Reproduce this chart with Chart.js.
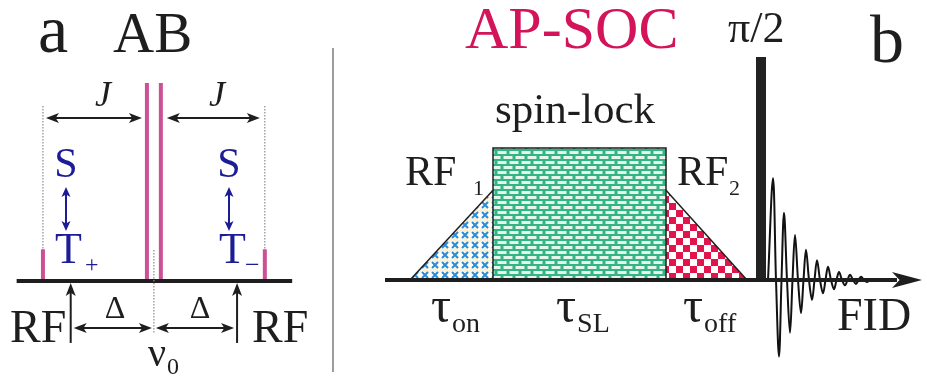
<!DOCTYPE html>
<html><head><meta charset="utf-8">
<script src="https://cdn.jsdelivr.net/npm/chart.js@4"></script>
<style>
html,body{margin:0;padding:0;background:#fff;width:927px;height:377px;overflow:hidden}
canvas{position:absolute;top:0}
#ca{left:0}
#cb{left:340px}
</style></head><body>
<canvas id="ca" width="340" height="377"></canvas>
<canvas id="cb" width="587" height="377"></canvas>
<script>
// ---- Panel a: AB spectrum (frequency offset from nu0, J = 10 units) ----
const abLinePositions = [-10.67, -0.67, 0.67, 10.67];
const abLineIntensities = [0.16, 1.0, 1.0, 0.16];
const couplingJ = 10;
const rfOffsetDelta = 8.0;
const spectrumAxisRange = [-13.2, 13.3];

// ---- Panel b: AP-SOC sequence (time in arbitrary units, RF amplitude) ----
const rampOnTimes = [0, 8.3];
const rampOnAmps = [0, 0.68];
const spinLockTimes = [8.3, 8.3, 25.6, 25.6];
const spinLockAmps = [0, 1, 1, 0];
const rampOffTimes = [25.6, 33.7];
const rampOffAmps = [0.68, 0];
const pulseTimes = [34.6, 34.6, 35.6, 35.6];
const pulseAmps = [0, 1.69, 1.69, 0];
const fidTimes = [35.8, 36.3, 36.6, 36.9, 37.15, 37.4, 37.7, 38.0, 38.25, 38.5, 38.8, 39.1, 39.35, 39.6,
  39.9, 40.2, 40.45, 40.7, 41.0, 41.3, 41.55, 41.8, 42.1, 42.4, 42.65, 42.9, 43.2, 43.5, 43.75, 44.0,
  44.3, 44.6, 44.85, 45.1, 45.4, 45.7, 46.0, 46.5];
const fidAmps = [0, 0.77, 0, -0.58, 0, 0.51, 0, -0.40, 0, 0.34, 0, -0.25, 0, 0.23,
  0, -0.15, 0, 0.15, 0, -0.10, 0, 0.10, 0, -0.07, 0, 0.06, 0, -0.04, 0, 0.04,
  0, -0.03, 0, 0.025, 0, -0.015, 0, 0];
const timeAxisRange = [-2.5, 51.2];

const SERIF = '"Liberation Serif", "DejaVu Serif", serif';
const INK = '#1e1e1e';
const PINK = '#cc5096';
const NAVY = '#1c1c96';

function pts(xs, ys) { return xs.map((x, i) => ({ x: x, y: ys[i] })); }

// fill patterns
function makePattern(w, h, paint) {
  const c = document.createElement('canvas');
  c.width = w; c.height = h;
  const g = c.getContext('2d');
  paint(g);
  return g.createPattern(c, 'repeat');
}
const crossPattern = makePattern(10, 10, g => {
  g.fillStyle = '#fff'; g.fillRect(0, 0, 10, 10);
  g.fillStyle = '#fbf1d6'; g.beginPath(); g.arc(0, 0, 2.2, 0, 7); g.arc(10, 0, 2.2, 0, 7); g.arc(0, 10, 2.2, 0, 7); g.arc(10, 10, 2.2, 0, 7); g.fill();
  g.strokeStyle = '#2a8bd6'; g.lineWidth = 2;
  g.beginPath(); g.moveTo(2, 2); g.lineTo(8, 8); g.moveTo(8, 2); g.lineTo(2, 8); g.stroke();
});
const brickPattern = makePattern(12, 10, g => {
  g.fillStyle = '#34b384'; g.fillRect(0, 0, 12, 10);
  g.fillStyle = '#e4f6ec';
  g.fillRect(1.5, 1, 9, 3);
  g.fillRect(7.5, 6, 9, 3);
  g.fillRect(-4.5, 6, 9, 3);
});
const checkPattern = makePattern(14, 14, g => {
  g.fillStyle = '#fff'; g.fillRect(0, 0, 14, 14);
  g.fillStyle = '#e2144c';
  g.fillRect(0, 0, 7, 7); g.fillRect(7, 7, 7, 7);
});

function txt(ctx, s, x, y, size, color, opts) {
  opts = opts || {};
  ctx.save();
  ctx.font = (opts.italic ? 'italic ' : '') + size + 'px ' + SERIF;
  ctx.fillStyle = color || INK;
  ctx.textAlign = opts.align || 'left';
  ctx.textBaseline = 'alphabetic';
  ctx.fillText(s, x, y);
  const w = ctx.measureText(s).width;
  ctx.restore();
  return w;
}
function head(ctx, x, y, ang, len, hw, color) {
  ctx.save();
  ctx.translate(x, y); ctx.rotate(ang);
  ctx.fillStyle = color;
  ctx.beginPath();
  ctx.moveTo(0, 0); ctx.lineTo(-len, -hw); ctx.lineTo(-len * 0.75, 0); ctx.lineTo(-len, hw);
  ctx.closePath(); ctx.fill();
  ctx.restore();
}
function arrow(ctx, x1, y1, x2, y2, color, lw, both, len, hw) {
  len = len || 12; hw = hw || 5;
  const a = Math.atan2(y2 - y1, x2 - x1);
  ctx.save();
  ctx.strokeStyle = color; ctx.lineWidth = lw;
  ctx.beginPath();
  ctx.moveTo(x1 + (both ? Math.cos(a) * len * 0.6 : 0), y1 + (both ? Math.sin(a) * len * 0.6 : 0));
  ctx.lineTo(x2 - Math.cos(a) * len * 0.6, y2 - Math.sin(a) * len * 0.6);
  ctx.stroke();
  ctx.restore();
  head(ctx, x2, y2, a, len, hw, color);
  if (both) head(ctx, x1, y1, a + Math.PI, len, hw, color);
}
function dotted(ctx, x, y1, y2) {
  ctx.save();
  ctx.strokeStyle = '#8c8c8c'; ctx.lineWidth = 1.2; ctx.setLineDash([1.5, 1.5]);
  ctx.beginPath(); ctx.moveTo(x, y1); ctx.lineTo(x, y2); ctx.stroke();
  ctx.restore();
}

const baseOpts = (xr, yr) => ({
  responsive: false, animation: false, events: [],
  layout: { padding: 0 },
  plugins: { legend: { display: false }, tooltip: { enabled: false } },
  elements: { point: { radius: 0 } },
  scales: {
    x: { type: 'linear', display: false, min: xr[0], max: xr[1] },
    y: { type: 'linear', display: false, min: yr[0], max: yr[1] }
  }
});

// ---------------- Panel a ----------------
const spectrumSets = abLinePositions.map((p, i) => ({
  data: pts([p, p], [0, abLineIntensities[i]]),
  borderColor: PINK, borderWidth: 4, borderCapStyle: 'butt', fill: false
}));
spectrumSets.unshift({
  data: pts(spectrumAxisRange, [0, 0]),
  borderColor: INK, borderWidth: 4, fill: false, order: -1
});

const panelA = {
  id: 'panelA',
  afterDatasetsDraw(chart) {
    const ctx = chart.ctx, X = v => chart.scales.x.getPixelForValue(v), Y = v => chart.scales.y.getPixelForValue(v);
    const outerL = X(abLinePositions[0]), innerL = X(abLinePositions[1]);
    const innerR = X(abLinePositions[2]), outerR = X(abLinePositions[3]);
    const x0 = X(0), yAx = Y(0);
    // guide lines
    dotted(ctx, outerL, Y(0.884), Y(abLineIntensities[0]));
    dotted(ctx, outerR, Y(0.884), Y(abLineIntensities[3]));
    dotted(ctx, x0, Y(0.157), Y(-0.263));
    // J arrows
    const yJ = Y(0.823);
    arrow(ctx, outerL + 3, yJ, innerL - 5, yJ, INK, 2, true, 13, 5);
    arrow(ctx, innerR + 6, yJ, outerR - 5, yJ, INK, 2, true, 13, 5);
    txt(ctx, 'J', 103, 106, 36, INK, { italic: true, align: 'center' });
    txt(ctx, 'J', 217, 106, 36, INK, { italic: true, align: 'center' });
    // RF irradiation positions
    const rfL = X(-rfOffsetDelta), rfR = X(rfOffsetDelta);
    arrow(ctx, rfL, Y(-0.313), rfL, yAx + 2, INK, 2, false, 13, 5);
    arrow(ctx, rfR, Y(-0.313), rfR, yAx + 2, INK, 2, false, 13, 5);
    const yD = Y(-0.237);
    arrow(ctx, rfL + 3, yD, x0 - 2, yD, INK, 2, true, 13, 5);
    arrow(ctx, x0 + 2, yD, rfR - 3, yD, INK, 2, true, 13, 5);
    txt(ctx, 'Δ', 115, 318, 32, INK, { align: 'center' });
    txt(ctx, 'Δ', 200, 318, 32, INK, { align: 'center' });
    txt(ctx, 'RF', 10, 342, 46);
    txt(ctx, 'RF', 252, 342, 46);
    txt(ctx, 'ν', 148, 366, 40);
    txt(ctx, '0', 167, 374, 24);
    // S <-> T labels
    txt(ctx, 'S', 66, 177, 42, NAVY, { align: 'center' });
    txt(ctx, 'S', 229, 177, 42, NAVY, { align: 'center' });
    arrow(ctx, 66, 187, 66, 231, NAVY, 2, true, 10, 4.5);
    arrow(ctx, 229, 187, 229, 231, NAVY, 2, true, 10, 4.5);
    txt(ctx, 'T', 55, 263, 44, NAVY);
    txt(ctx, '+', 85, 272, 24, NAVY);
    txt(ctx, 'T', 219, 263, 44, NAVY);
    txt(ctx, '−', 245, 273, 26, NAVY);
    // titles
    txt(ctx, 'a', 38, 52, 68);
    txt(ctx, 'AB', 113, 52, 57);
    // panel divider
    ctx.save(); ctx.strokeStyle = '#9c9c9c'; ctx.lineWidth = 2;
    ctx.beginPath(); ctx.moveTo(333, 48); ctx.lineTo(333, 372); ctx.stroke(); ctx.restore();
  }
};

new Chart(document.getElementById('ca'), {
  type: 'line',
  data: { datasets: spectrumSets },
  options: baseOpts([-14.8, 17.9], [-0.485, 1.419]),
  plugins: [panelA]
});

// ---------------- Panel b ----------------
const OFF = 340;
const panelB = {
  id: 'panelB',
  afterDatasetsDraw(chart) {
    const ctx = chart.ctx, X = v => chart.scales.x.getPixelForValue(v), Y = v => chart.scales.y.getPixelForValue(v);
    // time axis arrowhead
    head(ctx, X(timeAxisRange[1]), Y(0), 0, 30, 8, INK);
    const t = (s, x, y, size, color, o) => txt(ctx, s, x - OFF, y, size, color, o);
    t('AP-SOC', 465, 48, 60, '#d3145a');
    t('spin-lock', 495, 123, 43);
    t('π/2', 728, 42, 44);
    t('b', 870, 62, 68);
    t('RF', 405, 185, 42); t('1', 473, 195, 22);
    t('RF', 677, 185, 42); t('2', 729, 195, 22);
    const tau = (x, sub) => { const w = t('τ', x, 322, 50); t(sub, x + w + 1, 332, 28); };
    tau(431, 'on'); tau(556, 'SL'); tau(683, 'off');
    t('FID', 837, 330, 46);
  }
};

new Chart(document.getElementById('cb'), {
  type: 'line',
  data: {
    datasets: [
      { data: pts(timeAxisRange.map((v, i) => i ? v - 2.5 : v), [0, 0]), borderColor: INK, borderWidth: 4, fill: false, order: 0 },
      { data: pts(fidTimes, fidAmps), borderColor: '#111', borderWidth: 2, tension: 0.35, fill: false, order: 1 },
      { data: pts(pulseTimes, pulseAmps), borderColor: '#222', borderWidth: 0, backgroundColor: '#222', fill: 'origin', order: 2 },
      { data: pts(spinLockTimes, spinLockAmps), borderColor: INK, borderWidth: 1.5, backgroundColor: brickPattern, fill: 'origin', order: 3 },
      { data: pts(rampOnTimes, rampOnAmps), borderColor: INK, borderWidth: 1.5, backgroundColor: crossPattern, fill: 'origin', order: 4 },
      { data: pts(rampOffTimes, rampOffAmps), borderColor: INK, borderWidth: 1.5, backgroundColor: checkPattern, fill: 'origin', order: 4 }
    ]
  },
  options: baseOpts([-7.0, 51.7], [-0.7348, 2.1212]),
  plugins: [panelB]
});
</script>
</body></html>
